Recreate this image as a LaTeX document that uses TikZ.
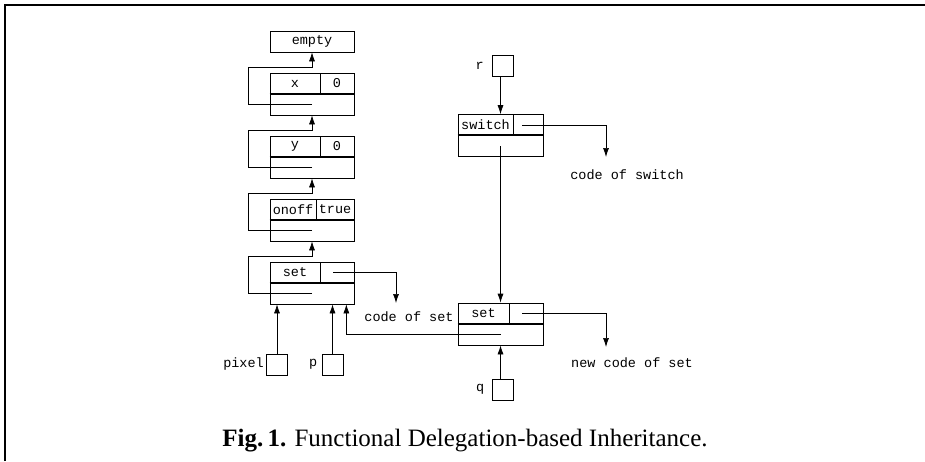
\documentclass[tikz,border=0pt]{standalone}
\usepackage{fontspec}
\setmainfont{Liberation Serif}
\setmonofont{Liberation Mono}
\usetikzlibrary{arrows.meta}

\begin{document}
\begin{tikzpicture}[x=1pt, y=-1pt, line width=0.7pt,
        cell/.style={draw, minimum height=21pt, inner sep=0pt, font=\fontsize{13.5}{15}\ttfamily},
        ref/.style={draw, minimum width=21pt, minimum height=21pt, inner sep=0pt},
        lbl/.style={font=\fontsize{13.5}{15}\ttfamily, inner sep=2pt},
        mid/.style={line width=1.6pt},
        ptr/.style={-{Latex[length=9pt, width=6pt]}}]
        \useasboundingbox (0, 0) rectangle (925, 461);
        \draw[line width=2.5pt] (5, 461) -- (5, 5) -- (925, 5);

        % left chain
        \node[cell, minimum width=84pt] (empty) at (312, 41.5) {empty};

        \node[cell, minimum width=50pt] (xname) at (295, 83.5) {x};
        \node[cell, minimum width=34pt] (xval) at (337, 83.5) {0};
        \node[cell, minimum width=84pt] (xlow) at (312, 104.5) {};

        \node[cell, minimum width=50pt] (yname) at (295, 146.5) {y};
        \node[cell, minimum width=34pt] (yval) at (337, 146.5) {0};
        \node[cell, minimum width=84pt] (ylow) at (312, 167.5) {};

        \node[cell, minimum width=46pt] (oname) at (293, 209.5) {onoff};
        \node[cell, minimum width=38pt] (oval) at (335, 209.5) {true};
        \node[cell, minimum width=84pt] (olow) at (312, 230.5) {};

        \node[cell, minimum width=50pt] (sname) at (295, 272.5) {set};
        \node[cell, minimum width=34pt] (sval) at (337, 272.5) {};
        \node[cell, minimum width=84pt] (slow) at (312, 293.5) {};

        \draw[mid] (xlow.north west) -- (xlow.north east);
        \draw[mid] (ylow.north west) -- (ylow.north east);
        \draw[mid] (olow.north west) -- (olow.north east);
        \draw[mid] (slow.north west) -- (slow.north east);

        \draw[ptr] (xlow.center) -- ++(-64, 0) |- ([yshift=5pt]xname.north -| xlow.center) -- (empty.south);
        \draw[ptr] (ylow.center) -- ++(-64, 0) |- ([yshift=5pt]yname.north -| ylow.center) -- (xlow.south);
        \draw[ptr] (olow.center) -- ++(-64, 0) |- ([yshift=5pt]oname.north -| olow.center) -- (ylow.south);
        \draw[ptr] (slow.center) -- ++(-64, 0) |- ([yshift=5pt]sname.north -| slow.center) -- (olow.south);

        \coordinate (codeset) at (396, 303);
        \node[lbl] (codesettext) at (409, 317) {code of set};
        \draw[ptr] ([xshift=-4pt]sval.center) -| (codeset);

        \node[ref, label={[lbl]left:pixel}] (pixel) at (277, 364.5) {};
        \node[ref, label={[lbl, xshift=-2pt]left:p}] (p) at (332.5, 364.5) {};
        \draw[ptr] (pixel.north) -- (pixel.north |- slow.south);
        \draw[ptr] (p.north) -- (p.north |- slow.south);

        % right side
        \node[ref, label={[lbl, xshift=-6pt]left:r}] (r) at (503, 65.5) {};

        \node[cell, minimum width=55pt] (swname) at (485.5, 125) {switch};
        \node[cell, minimum width=30pt] (swval) at (528, 125) {};
        \node[cell, minimum width=85pt] (swlow) at (500.5, 146) {};
        \draw[mid] (swlow.north west) -- (swlow.north east);

        \node[cell, minimum width=51pt] (s2name) at (483.5, 313.5) {set};
        \node[cell, minimum width=34pt] (s2val) at (526, 313.5) {};
        \node[cell, minimum width=85pt] (s2low) at (500.5, 334.5) {};
        \draw[mid] (s2low.north west) -- (s2low.north east);

        \node[ref, label={[lbl, xshift=-5pt]left:q}] (q) at (502.5, 389.5) {};

        \draw[ptr] (swlow.center |- r.south) -- (swlow.center |- swname.north);
        \draw[ptr] (swlow.center) -- (s2low.center |- s2name.north);
        \draw[ptr] (s2low.center |- q.north) -- (s2low.south);
        \draw[ptr] (s2low.center) -| ([xshift=-8pt]slow.south east);

        \coordinate (codesw) at (606, 157);
        \node[lbl] (codeswtext) at (627, 175) {code of switch};
        \draw[ptr] ([xshift=-6pt]swval.center) -| (codesw);

        \coordinate (newcode) at (606, 347);
        \node[lbl] (newcodetext) at (632, 363) {new code of set};
        \draw[ptr] ([xshift=-4pt]s2val.center) -| (newcode);

        \node[font=\fontsize{25}{28}\selectfont, anchor=base] (caption) at (465, 446.5)
                {\textbf{Fig.\,1.} Functional Delegation-based Inheritance.};
\end{tikzpicture}
\end{document}
